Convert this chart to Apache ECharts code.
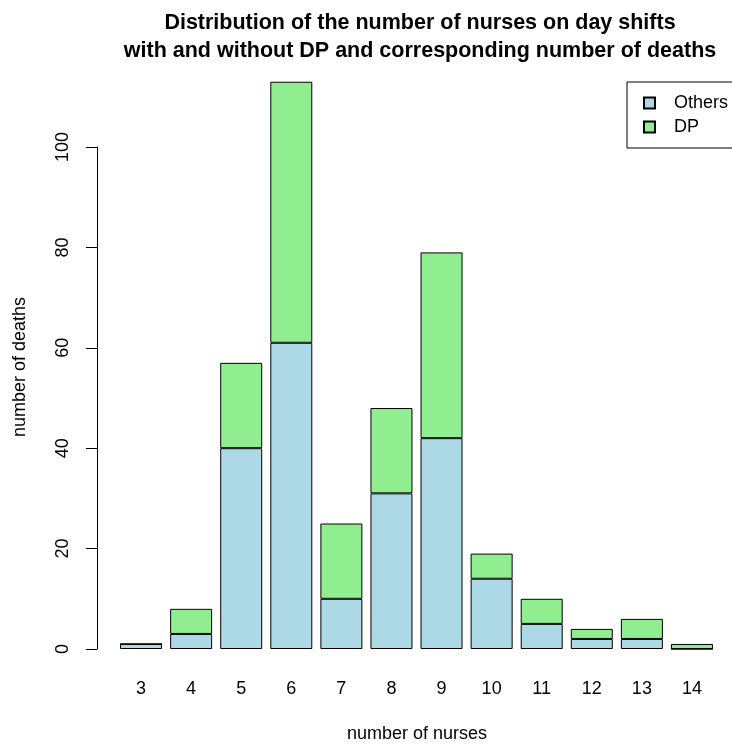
<!DOCTYPE html>
<html><head><meta charset="utf-8">
<script src="https://cdn.jsdelivr.net/npm/echarts@6/dist/echarts.min.js"></script>
<style>html,body{margin:0;padding:0;background:#fff}#c{width:732px;height:747px}</style>
</head><body><div id="c"></div>
<script>
const categories = ['3','4','5','6','7','8','9','10','11','12','13','14'];
const others = [1, 3, 40, 61, 10, 31, 42, 14, 5, 2, 2, 0];
const dp = [0, 5, 17, 52, 15, 17, 37, 5, 5, 2, 4, 1];
const yTicks = [0, 20, 40, 60, 80, 100];

const FONT = '"Liberation Sans", Arial, sans-serif';
const chart = echarts.init(document.getElementById('c'), null, {renderer: 'canvas'});
chart.setOption({
  animation: false,
  backgroundColor: '#fff',
  textStyle: {fontFamily: FONT},
  graphic: [
    {type: 'text', x: 420, y: 23, style: {text: 'Distribution of the number of nurses on day shifts', font: 'bold 21.5px ' + FONT, fill: '#000', align: 'center', verticalAlign: 'middle'}},
    {type: 'text', x: 420, y: 51, style: {text: 'with and without DP and corresponding number of deaths', font: 'bold 21.5px ' + FONT, fill: '#000', align: 'center', verticalAlign: 'middle'}},
    {type: 'text', x: 417, y: 734, style: {text: 'number of nurses', font: '18px ' + FONT, fill: '#000', align: 'center', verticalAlign: 'middle'}},
    {type: 'text', x: 20, y: 367, rotation: Math.PI / 2, style: {text: 'number of deaths', font: '18px ' + FONT, fill: '#000', align: 'center', verticalAlign: 'middle'}}
  ],
  legend: {
    left: 627, top: 82,
    orient: 'vertical',
    data: ['Others', 'DP'],
    icon: 'rect',
    itemWidth: 11, itemHeight: 11,
    itemGap: 6,
    borderColor: '#000', borderWidth: 1, borderRadius: 0,
    padding: [12, 40, 12, 16],
    textStyle: {fontSize: 18, color: '#000', fontFamily: FONT, padding: [0, 0, 0, 14]}
  },
  grid: {left: 116, right: 15, top: 147, bottom: 98, containLabel: false},
  xAxis: {
    type: 'category', data: categories,
    axisLine: {show: false}, axisTick: {show: false},
    axisLabel: {fontSize: 18, color: '#000', margin: 31, fontFamily: FONT}
  },
  yAxis: {
    type: 'value', min: 0, max: 100, interval: 20, offset: 19,
    splitLine: {show: false},
    axisLine: {show: true, lineStyle: {color: '#000', width: 1}},
    axisTick: {show: true, length: 11, lineStyle: {color: '#000'}},
    axisLabel: {fontSize: 18, color: '#000', rotate: 90, margin: 25, fontFamily: FONT,
      formatter: v => yTicks.includes(v) ? String(v) : ''}
  },
  series: [
    {name: 'Others', type: 'bar', stack: 'a', data: others, barWidth: 42, clip: false,
      itemStyle: {color: '#ADD8E6', borderColor: '#000', borderWidth: 1}},
    {name: 'DP', type: 'bar', stack: 'a', data: dp, barWidth: 42, clip: false,
      itemStyle: {color: '#90EE90', borderColor: '#000', borderWidth: 1}}
  ]
});
</script></body></html>
